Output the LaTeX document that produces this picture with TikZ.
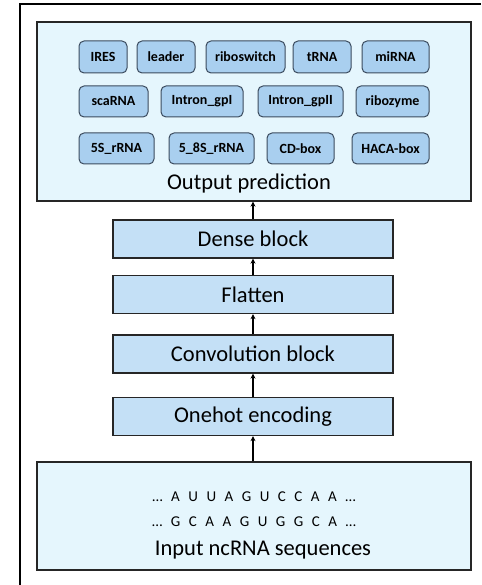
\documentclass[tikz,border=0pt]{standalone}
\usepackage{fontspec}
\setmainfont{Carlito}
\usetikzlibrary{arrows.meta,positioning}
\definecolor{classfill}{RGB}{169,207,239}
\definecolor{classdraw}{RGB}{59,75,94}
\definecolor{blockfill}{RGB}{196,224,246}
\definecolor{panelfill}{RGB}{229,246,253}
\newcommand{\seqfont}{\fontsize{15}{18}\selectfont\spaceskip=8.5pt\relax}
\tikzset{
  panel/.style     = {rectangle, draw=black!85, line width=1.3pt, fill=panelfill,
                      inner sep=0pt, minimum width=434pt},
  block/.style     = {rectangle, draw=black!85, line width=1.3pt, fill=blockfill,
                      inner sep=0pt, minimum width=280pt, minimum height=38pt,
                      font=\fontsize{22.5}{26}\selectfont},
  classbox/.style  = {rectangle, rounded corners=5pt, draw=classdraw, line width=1pt,
                      fill=classfill, inner sep=0pt,
                      font=\bfseries\fontsize{14}{16}\selectfont},
  flow/.style      = {-{Stealth[length=5pt,width=5pt]}, line width=1.3pt},
  biglabel/.style  = {font=\fontsize{22.5}{26}\selectfont, inner sep=0pt},
  seqtext/.style   = {font=\seqfont, inner sep=0pt},
}

\begin{document}
\begin{tikzpicture}[x=1pt,y=-1pt]
  \useasboundingbox (0,0) rectangle (481,585);

  % outer frame (cropped on the right and bottom)
  \draw[line width=1.5pt] (20,585) -- (20,4) -- (481,4);

  % ---------------- output prediction ------------------------------------
  \node[panel,minimum height=179pt] (outbox) at (254,111.5) {};
  \node[biglabel] (outlabel) at (249,184) {Output prediction};

  \node[classbox,minimum width=48pt,minimum height=32pt] (ires)      at (103,57)   {IRES};
  \node[classbox,minimum width=58pt,minimum height=32pt] (leader)    at (166,57)   {leader};
  \node[classbox,minimum width=79pt,minimum height=32pt] (riboswitch) at (245.5,57) {riboswitch};
  \node[classbox,minimum width=58pt,minimum height=32pt] (trna)      at (322,57)   {tRNA};
  \node[classbox,minimum width=67pt,minimum height=32pt] (mirna)     at (395.5,57) {miRNA};

  \node[classbox,minimum width=69pt,minimum height=31pt] (scarna)    at (113.5,101.5) {scaRNA};
  \node[classbox,minimum width=82pt,minimum height=31pt] (gpI)       at (202,101.5)   {Intron\_gpI};
  \node[classbox,minimum width=85pt,minimum height=31pt] (gpII)      at (300.5,101.5) {Intron\_gpII};
  \node[classbox,minimum width=73pt,minimum height=31pt] (ribozyme)  at (392.5,101.5) {ribozyme};

  \node[classbox,minimum width=75pt,minimum height=31pt] (fives)     at (116.5,148.5) {5S\_rRNA};
  \node[classbox,minimum width=85pt,minimum height=31pt] (fiveeight) at (211.5,148.5) {5\_8S\_rRNA};
  \node[classbox,minimum width=67pt,minimum height=31pt] (cdbox)     at (300.5,148.5) {CD-box};
  \node[classbox,minimum width=77pt,minimum height=31pt] (hacabox)   at (390.5,148.5) {HACA-box};

  % ---------------- network blocks ---------------------------------------
  \node[block] (dense)   at (253,239)   {Dense block};
  \node[block] (flatten) at (253,294.5) {Flatten};
  \node[block] (conv)    at (253,354)   {Convolution block};
  \node[block] (onehot)  at (253,416.5) {Onehot encoding};

  % ---------------- input sequences --------------------------------------
  \node[panel,minimum height=108pt] (inbox) at (254,516) {};
  \node[seqtext] (seqA) at (254,497) {… A U U A G U C C A A …};
  \node[seqtext] (seqB) at (254,522) {… G C A A G U G G C A …};
  \node[biglabel] (inlabel) at (263,550) {Input ncRNA sequences};

  % ---------------- arrows -----------------------------------------------
  \draw[flow] (inbox.north -| onehot) -- (onehot.south);
  \draw[flow] (onehot.north) -- (conv.south);
  \draw[flow] (conv.north) -- (flatten.south);
  \draw[flow] (flatten.north) -- (dense.south);
  \draw[flow] (dense.north) -- (outbox.south -| dense);
\end{tikzpicture}
\end{document}
